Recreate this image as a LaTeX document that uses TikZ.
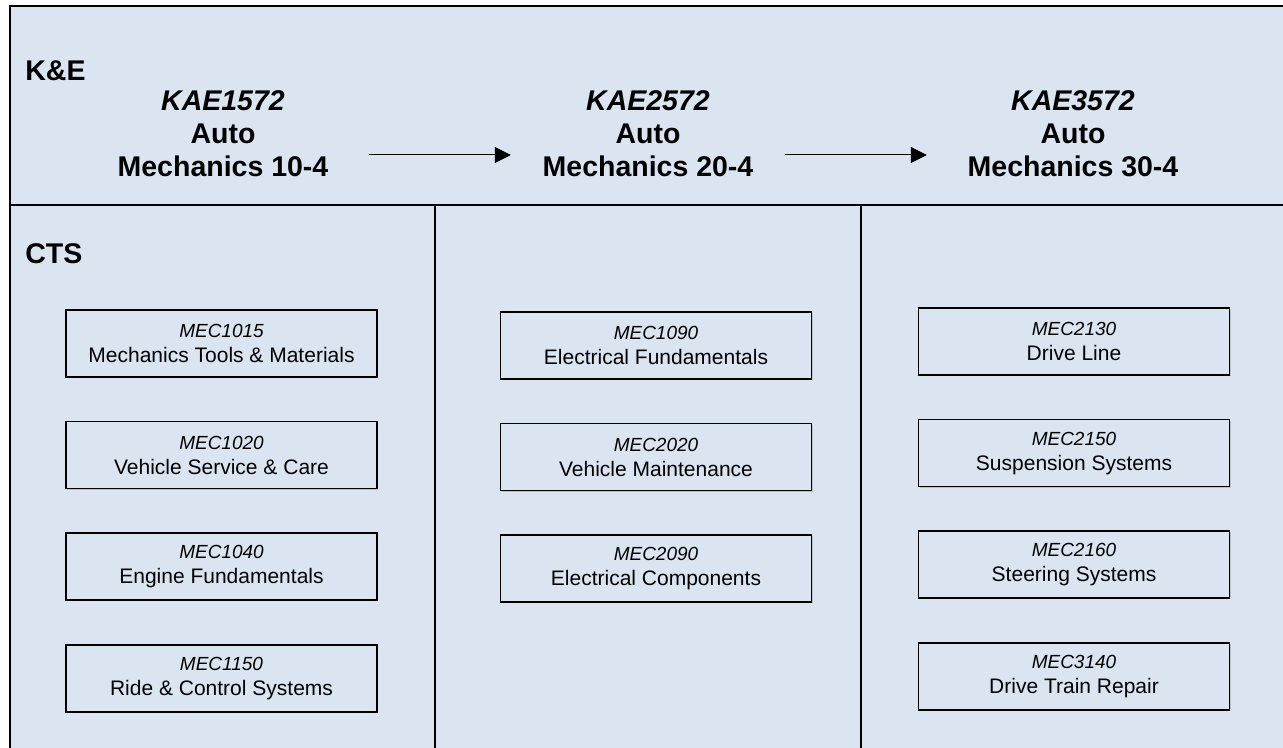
\documentclass[tikz,border=0pt]{standalone}
\usepackage{fontspec}
\setmainfont{Liberation Sans}
\usetikzlibrary{arrows.meta, chains, positioning, shadows}
\definecolor{panel}{HTML}{DBE5F1}

\begin{document}
\begin{tikzpicture}[x=0.5pt, y=-0.5pt, node distance = 21.5pt,
course/.style = {rectangle, draw, line width=0.8pt, fill=panel,
minimum width=155.5pt, minimum height=33.5pt, inner sep=0pt, align=center,
font=\fontsize{10.5}{12.5}\selectfont,
drop shadow={shadow xshift=0.6pt, shadow yshift=-0.6pt, opacity=0.35}, on chain},
level/.style = {inner sep=0pt, align=center, font=\fontsize{14.25}{16.5}\selectfont\bfseries},
tag/.style = {inner sep=0pt, anchor=base west, font=\fontsize{14.25}{16.5}\selectfont\bfseries},
LA/.style = {% Level Arrow
-{Triangle[length=8pt, width=8pt]}, line width=0.5pt}]
\useasboundingbox (0,0) rectangle (1283,748);
\clip (0,0) rectangle (1283,748);
% frame and columns
\draw[line width=1pt, fill=panel] (10,6) rectangle (1300,770);
\draw[line width=1pt] (10,205) -- (1300,205) (435,205) -- (435,770) (861,205) -- (861,770);
\node[tag] (ke)  at (25,81)  {K\&E};
\node[tag] (cts) at (25,264) {CTS};
% levels
\node[level] (h1) at (223,134)  {\textit{KAE1572}\\Auto\\Mechanics 10-4};
\node[level] (h2) at (648,134)  {\textit{KAE2572}\\Auto\\Mechanics 20-4};
\node[level] (h3) at (1073,134) {\textit{KAE3572}\\Auto\\Mechanics 30-4};
\draw[LA] ([xshift=20pt, yshift=-10.5pt]h1.east) -- ([xshift=-15.75pt, yshift=-10.5pt]h2.west);
\draw[LA] ([xshift=15.75pt, yshift=-10.5pt]h2.east) -- ([xshift=-20.25pt, yshift=-10.5pt]h3.west);
% courses
\begin{scope}[start chain = L going below, every node/.style={course}]
\node at (221.5,343.5) {{\fontsize{9.5}{12.5}\selectfont\itshape MEC1015}\\Mechanics Tools \& Materials}; % L-1
\node {{\fontsize{9.5}{12.5}\selectfont\itshape MEC1020}\\Vehicle Service \& Care};
\node {{\fontsize{9.5}{12.5}\selectfont\itshape MEC1040}\\Engine Fundamentals};
\node {{\fontsize{9.5}{12.5}\selectfont\itshape MEC1150}\\Ride \& Control Systems};
\end{scope}
\begin{scope}[start chain = M going below, every node/.style={course}]
\node at (656,345.5) {{\fontsize{9.5}{12.5}\selectfont\itshape MEC1090}\\Electrical Fundamentals}; % M-1
\node {{\fontsize{9.5}{12.5}\selectfont\itshape MEC2020}\\Vehicle Maintenance};
\node {{\fontsize{9.5}{12.5}\selectfont\itshape MEC2090}\\Electrical Components};
\end{scope}
\begin{scope}[start chain = R going below, every node/.style={course}]
\node at (1074,341.5) {{\fontsize{9.5}{12.5}\selectfont\itshape MEC2130}\\Drive Line}; % R-1
\node {{\fontsize{9.5}{12.5}\selectfont\itshape MEC2150}\\Suspension Systems};
\node {{\fontsize{9.5}{12.5}\selectfont\itshape MEC2160}\\Steering Systems};
\node {{\fontsize{9.5}{12.5}\selectfont\itshape MEC3140}\\Drive Train Repair};
\end{scope}
\end{tikzpicture}
\end{document}
